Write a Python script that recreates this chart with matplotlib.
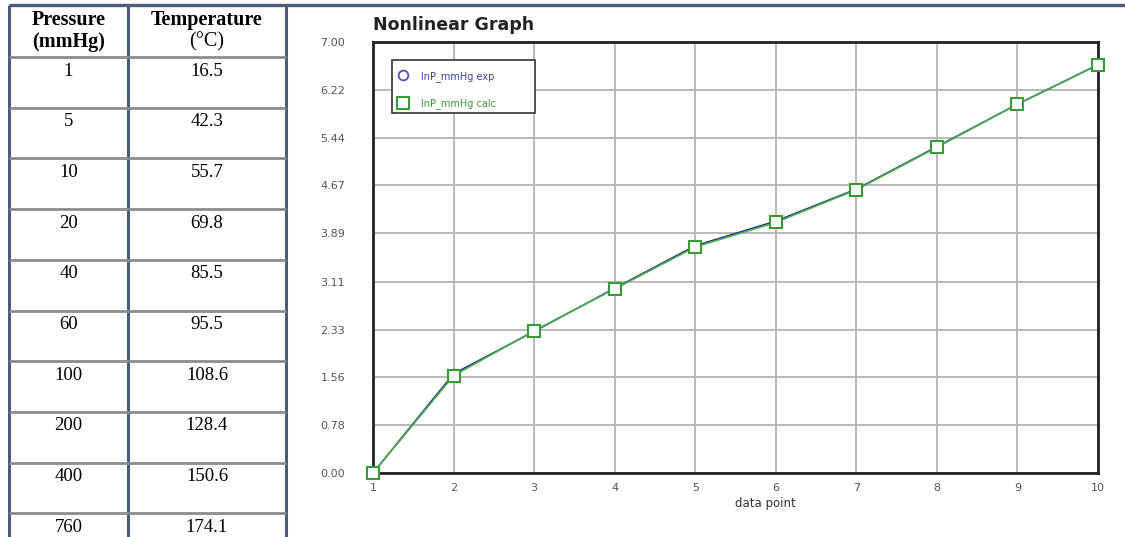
import matplotlib.pyplot as plt
from matplotlib.patches import Rectangle

# table data
pressure = ["1", "5", "10", "20", "40", "60", "100", "200", "400", "760"]
temperature = ["16.5", "42.3", "55.7", "69.8", "85.5", "95.5", "108.6", "128.4", "150.6", "174.1"]

# graph data
data_point = [1, 2, 3, 4, 5, 6, 7, 8, 9, 10]
lnp_exp = [0.00, 1.61, 2.30, 3.00, 3.69, 4.09, 4.61, 5.30, 5.99, 6.63]
lnp_calc = [0.00, 1.58, 2.31, 2.99, 3.67, 4.07, 4.60, 5.29, 5.99, 6.63]
y_ticks = [0.00, 0.78, 1.56, 2.33, 3.11, 3.89, 4.67, 5.44, 6.22, 7.00]

W, H = 1125, 537
fig = plt.figure(figsize=(W / 100, H / 100), dpi=100)

# background layer in pixel coordinates for the table
bg = fig.add_axes([0, 0, 1, 1])
bg.set_xlim(0, W)
bg.set_ylim(H, 0)
bg.axis("off")

border = "#4b5b78"
rowline = "#8c8c8c"
serif = "Liberation Serif"

col_x = [9, 128, 286]
row_top = 57
row_h = 50.7

# top border across the page
bg.plot([col_x[0], W], [5, 5], color=border, lw=2.4, solid_capstyle="butt")
for x in col_x:
    bg.plot([x, x], [5, H], color=border, lw=2.2, solid_capstyle="butt")
for k in range(len(pressure)):
    y = row_top + k * row_h
    bg.plot([col_x[0], col_x[2]], [y, y], color=rowline, lw=2.0, solid_capstyle="butt")

cx1 = (col_x[0] + col_x[1]) / 2
cx2 = (col_x[1] + col_x[2]) / 2
bg.text(cx1, 20, "Pressure", ha="center", va="center", family=serif, weight="bold", fontsize=14.5)
bg.text(cx1, 42, "(mmHg)", ha="center", va="center", family=serif, weight="bold", fontsize=14.5)
bg.text(cx2, 20, "Temperature", ha="center", va="center", family=serif, weight="bold", fontsize=14.5)
bg.text(cx2, 42, "(\u00b0C)", ha="center", va="center", family=serif, fontsize=14.5)

for k, (p, t) in enumerate(zip(pressure, temperature)):
    y = row_top + k * row_h + 14
    bg.text(cx1, y, p, ha="center", va="center", family=serif, fontsize=13.5)
    bg.text(cx2, y, t, ha="center", va="center", family=serif, fontsize=13.5)

# chart
ax_l, ax_r, ax_t, ax_b = 373, 1098, 42, 473
ax = fig.add_axes([ax_l / W, (H - ax_b) / H, (ax_r - ax_l) / W, (ax_b - ax_t) / H])

ax.plot(data_point, lnp_exp, color="#2b2b8c", lw=1.2, marker="o", markersize=7,
        markerfacecolor="white", markeredgecolor="#5050b8", markeredgewidth=1.3,
        label="lnP_mmHg exp", zorder=3)
ax.plot(data_point, lnp_calc, color="#4caf50", lw=1.2, marker="s", markersize=8.5,
        markerfacecolor="white", markeredgecolor="#3a9a3a", markeredgewidth=1.5,
        label="lnP_mmHg calc", zorder=4, clip_on=False)

ax.set_xlim(1, 10)
ax.set_ylim(0, 7)
ax.set_xticks(data_point)
ax.set_yticks(y_ticks)
ax.set_yticklabels([f"{v:.2f}" for v in y_ticks])
ax.grid(True, color="#b4b4b4", lw=1.3)
ax.set_axisbelow(True)
for s in ax.spines.values():
    s.set_linewidth(2)
    s.set_color("#222222")
ax.tick_params(axis="y", length=0, pad=20, labelsize=8, labelcolor="#555555")
ax.tick_params(axis="x", length=0, pad=7, labelsize=8, labelcolor="#555555")
ax.set_xlabel("data point", fontsize=8.5, color="#333333", labelpad=3)
ax.xaxis.set_label_coords(0.541, -0.055)

fig.text(ax_l / W, 1 - 25 / H, "Nonlinear Graph", ha="left", va="center",
         fontsize=12.5, weight="bold", color="#222222")

# legend: box drawn separately so its size matches the original
ax.add_patch(Rectangle((0.026, 0.835), 0.197, 0.123, transform=ax.transAxes,
                       facecolor="white", edgecolor="#333333", lw=1.2, zorder=5))
leg = ax.legend(loc="upper left", bbox_to_anchor=(0.0345, 0.933), fontsize=7,
                frameon=False, borderpad=0, borderaxespad=0, labelspacing=1.7,
                handlelength=1.0, handletextpad=1.4, markerscale=1.0)
leg.set_zorder(6)
for h in leg.get_lines():
    h.set_linestyle("none")
for txt, c in zip(leg.get_texts(), ["#4040b0", "#3a9a3a"]):
    txt.set_color(c)

fig.savefig("out.png", dpi=100)
